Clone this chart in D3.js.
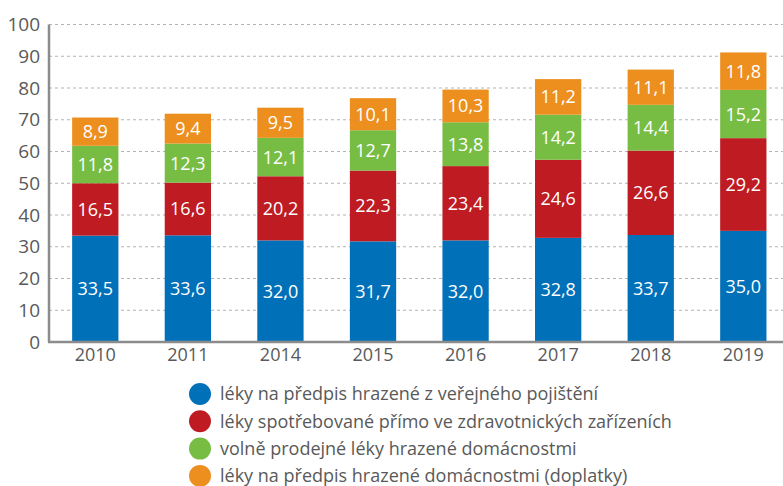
<!DOCTYPE html>
<html><head><meta charset="utf-8">
<script src="https://cdn.jsdelivr.net/npm/d3@7"></script>
<style>body{margin:0;background:#fff;} svg{display:block;font-family:"Open Sans",sans-serif;}</style>
</head><body>
<svg id="c" width="783" height="486"></svg>
<script>
const years = ["2010","2011","2014","2015","2016","2017","2018","2019"];
const seriesNames = [
  "léky na předpis hrazené z veřejného pojištění",
  "léky spotřebované přímo ve zdravotnických zařízeních",
  "volně prodejné léky hrazené domácnostmi",
  "léky na předpis hrazené domácnostmi (doplatky)"
];
const publicInsurance = [33.5,33.6,32.0,31.7,32.0,32.8,33.7,35.0];
const facilities      = [16.5,16.6,20.2,22.3,23.4,24.6,26.6,29.2];
const otc             = [11.8,12.3,12.1,12.7,13.8,14.2,14.4,15.2];
const copayments      = [8.9,9.4,9.5,10.1,10.3,11.2,11.1,11.8];
const yTicks = [0,10,20,30,40,50,60,70,80,90,100];
const colors = ["#0070b9","#be1b22","#77bd43","#ec8f1f"];

const seriesValues = [publicInsurance, facilities, otc, copayments];
const table = years.map((y,i)=>{const o={year:y}; seriesValues.forEach((s,k)=>o["s"+k]=s[i]); return o;});
const keys = seriesValues.map((_,k)=>"s"+k);
const stacked = d3.stack().keys(keys)(table);

const svg = d3.select("#c");
const x = d3.scaleBand().domain(years).range([49,789.6]).paddingInner(0.5).paddingOuter(0.25);
const y = d3.scaleLinear().domain([0,100]).range([342,24.5]);
const fmt = v => d3.format(".1f")(v).replace(".",",");

// gridlines
svg.append("g").selectAll("line").data(yTicks.filter(t=>t>0)).join("line")
  .attr("x1",49).attr("x2",783).attr("y1",d=>y(d)).attr("y2",d=>y(d))
  .attr("stroke","#b3b3b3").attr("stroke-width",1).attr("stroke-dasharray","3,3");

// bars
const g = svg.append("g");
stacked.forEach((layer,k)=>{
  g.append("g").selectAll("rect").data(layer).join("rect")
    .attr("x",d=>x(d.data.year)).attr("width",x.bandwidth())
    .attr("y",d=>y(d[1])).attr("height",d=>y(d[0])-y(d[1]))
    .attr("fill",colors[k]);
  g.append("g").selectAll("text").data(layer).join("text")
    .attr("x",d=>x(d.data.year)+x.bandwidth()/2)
    .attr("y",d=>(y(d[0])+y(d[1]))/2)
    .attr("dy","0.36em").attr("text-anchor","middle")
    .attr("fill","#fff").attr("font-size",18)
    .text(d=>fmt(d[1]-d[0]));
});

// y axis
const ya = svg.append("g").attr("transform","translate(49,0)")
  .call(d3.axisLeft(y).tickValues(yTicks).tickSize(0).tickPadding(9));
ya.select(".domain").attr("stroke","#8c8c8c").attr("stroke-width",2.5).attr("d",`M0,${y(100)}V${y(0)}`);
ya.selectAll("text").attr("font-size",19).attr("fill","#595959").attr("font-family","'Open Sans',sans-serif");

// x axis
const xa = svg.append("g").attr("transform","translate(0,342)")
  .call(d3.axisBottom(x).tickSize(0).tickPadding(6));
xa.select(".domain").attr("stroke","#8c8c8c").attr("stroke-width",2.5).attr("d","M48,0H783");
xa.selectAll("text").attr("font-size",18).attr("fill","#595959").attr("font-family","'Open Sans',sans-serif");

// legend
const leg = svg.append("g").selectAll("g").data(seriesNames).join("g")
  .attr("transform",(d,i)=>`translate(200,${394+i*27.3})`);
leg.append("circle").attr("r",11).attr("fill",(d,i)=>colors[i]);
leg.append("text").attr("x",20).attr("dy","0.35em").attr("font-size",18).attr("fill","#595959").text(d=>d);
</script>
</body></html>
